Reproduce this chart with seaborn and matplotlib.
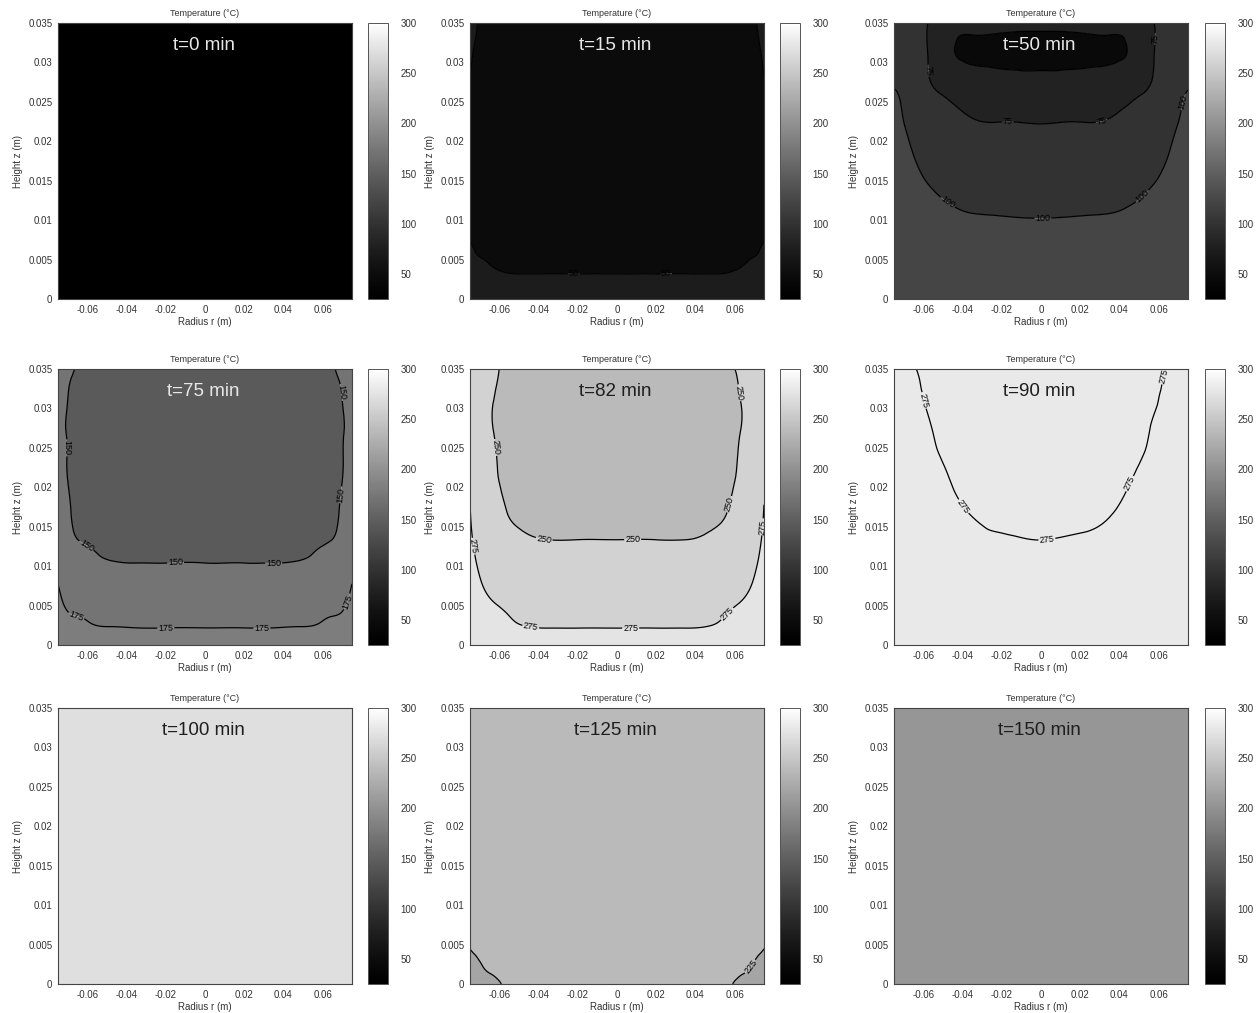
import numpy as np
import matplotlib
matplotlib.use("Agg")
import matplotlib.pyplot as plt
import matplotlib.tri as mtri
import seaborn as sns
from matplotlib.colors import LinearSegmentedColormap, Normalize
from matplotlib.cm import ScalarMappable
from matplotlib.ticker import FuncFormatter

# ------------------------------------------------------------------ data
TIMES_MIN = [0, 15, 50, 75, 82, 90, 100, 125, 150]

# half-section grid (axisymmetric, mirrored to negative radius)
R_HALF = [0.0, 0.02, 0.035, 0.05, 0.058, 0.064, 0.069, 0.072, 0.075]
Z_NODES = [0.0, 0.002, 0.004, 0.007, 0.010, 0.013, 0.017, 0.022, 0.027, 0.031, 0.035]

T_MIN, T_MAX = 25, 300
CBAR_TICKS = [50, 100, 150, 200, 250, 300]
X_TICKS = [-0.06, -0.04, -0.02, 0.0, 0.02, 0.04, 0.06]
Y_TICKS = [0.0, 0.005, 0.01, 0.015, 0.02, 0.025, 0.03, 0.035]

# temperatures (deg C): one list per radius node (R_HALF), values along Z_NODES
T_0_UNIFORM = 20
T_100_UNIFORM = 271
T_150_UNIFORM = 205

T_15 = [
    [62, 55, 47, 42, 40, 39, 38, 38, 38, 38, 39],
    [62, 55, 47, 42, 40, 39, 38, 38, 38, 38, 39],
    [62, 55, 47, 42, 40, 39, 38, 38, 38, 38, 39],
    [62, 55, 47, 42, 40, 39, 38, 38, 38, 38, 39],
    [63, 56, 48, 43, 41, 40, 39, 39, 39, 39, 40],
    [64, 58, 50.5, 45, 42, 41, 40, 40, 40, 41, 42],
    [66, 60, 53, 47, 44, 43, 42, 42, 43, 45, 47],
    [68, 62, 54, 48.5, 46, 45, 44, 44, 46, 48, 51],
    [70, 64, 58, 50.3, 48, 47, 46, 47, 49, 52, 55],
]
T_50 = [
    [118, 115, 111, 106, 100.5, 95, 88, 75.5, 59, 44, 56],
    [118.5, 115.5, 111.5, 106, 101, 95.5, 88.5, 76, 60, 45, 57],
    [119, 116, 112, 106.5, 101.5, 96.5, 89.5, 77, 62, 47, 58],
    [120, 117, 113, 108, 104, 99.5, 94, 85, 70, 58, 62],
    [121, 118, 114, 110, 106, 102, 97.5, 90, 79, 75.5, 75.5],
    [122, 119, 116, 112, 108, 104.5, 100.5, 95, 89, 86, 86],
    [122, 120, 118, 115, 112, 107.5, 104, 99.5, 95, 93, 93],
    [123, 121, 119, 117, 114, 110, 106.5, 102, 98, 96, 96],
    [123, 122, 120, 118, 116, 113, 109, 104, 99.5, 98, 98],
]
T_75 = [
    [182, 175.5, 170, 161, 151, 146, 143, 141, 140, 140, 141],
    [182, 175.5, 170, 161, 151, 146, 143, 141, 140, 140, 141],
    [182, 175.5, 170, 161, 151, 146, 143, 141, 140, 140, 141],
    [183, 176, 170.5, 162, 152, 147, 144, 142, 141, 141, 142],
    [184, 177, 172, 164, 155, 148.8, 145.5, 144, 143, 143, 144],
    [185, 179, 174, 167, 159, 150.3, 147.5, 147, 146, 146, 148],
    [186.5, 180.5, 175, 169, 163, 154, 150.5, 149, 148.5, 149, 152],
    [188, 182.5, 177, 172, 167, 159, 154, 151.5, 151, 152, 154],
    [190, 185, 180, 176, 171, 164, 159, 155, 154, 155, 157],
]
T_82 = [
    [285, 275.5, 270, 263, 256, 250.5, 246, 243, 241, 240, 240],
    [285, 275.5, 270, 263, 256, 250.5, 246, 243, 241, 240, 240],
    [285, 275.5, 270, 263, 256, 250.5, 246, 243, 241, 240, 240],
    [286, 277, 272, 265, 259, 253, 248, 246, 244, 243, 243],
    [287, 280, 276, 268, 262, 257, 251, 248.5, 248, 248, 249],
    [289, 283, 279, 272, 266.5, 261, 256, 252, 250.5, 250.5, 252],
    [291, 286, 282, 276.5, 271.5, 266.5, 262, 257, 255, 255, 256],
    [292, 288, 285, 280.5, 276, 272, 268, 263, 260, 259, 260],
    [294, 291, 288, 285, 281, 278, 275.5, 271, 267, 265, 266],
]
T_90 = [
    [284, 283, 282, 280, 278, 275.3, 272, 270, 269, 268, 268],
    [284, 283, 282, 280, 278.5, 276, 273, 271, 270, 269, 269],
    [284, 283, 282, 280.5, 279, 277, 274.5, 272, 271, 270, 270],
    [285, 284, 283, 282, 281, 280, 278, 275.5, 273, 272, 271],
    [286, 285, 284, 283, 282, 281, 280, 278, 276, 274.5, 273],
    [287, 286, 285, 284, 283, 282, 281, 280, 278, 276.5, 275.2],
    [288, 287, 286, 285, 284, 283, 282, 281, 280, 279, 278],
    [289, 288, 287, 286, 285, 284, 283, 282, 281, 280, 279],
    [290, 289, 288, 287, 286, 285, 284, 283, 282, 281, 280],
]
T_125 = [
    [235, 235, 235, 235, 235, 235, 235, 235, 235, 235, 235],
    [235, 235, 235, 235, 235, 235, 235, 235, 235, 235, 235],
    [235, 235, 235, 235, 235, 235, 235, 235, 235, 235, 235],
    [235, 235, 235, 235, 235, 235, 235, 235, 235, 235, 235],
    [226, 230, 233, 235, 235, 235, 235, 235, 235, 235, 235],
    [222, 227, 231, 234, 235, 235, 235, 235, 235, 235, 235],
    [219, 224, 228, 232, 235, 235, 235, 235, 235, 235, 235],
    [217, 221, 226, 231, 234, 235, 235, 235, 235, 235, 235],
    [215, 219, 224, 229, 233, 235, 235, 235, 235, 235, 235],
]

# isotherms drawn on each panel
LEVELS_0, LEVELS_15, LEVELS_50 = [], [50], [50, 75, 100]
LEVELS_75, LEVELS_82, LEVELS_90 = [150, 175], [250, 275], [275]
LEVELS_100, LEVELS_125, LEVELS_150 = [], [225], []

# shade (as temperature on the colour scale) of each region between isotherms
BANDS_0, BANDS_15, BANDS_50 = [20], [48, 72], [45, 80, 100, 122]
BANDS_75, BANDS_82, BANDS_90 = [145, 172, 180], [238, 260, 276], [280, 280]
BANDS_100, BANDS_125, BANDS_150 = [271], [219, 238], [205]

# where the inline isotherm labels sit
LABELS_15 = [(-0.022, 0.0033), (0.025, 0.0033)]
LABELS_50 = [(-0.056, 0.029), (-0.017, 0.0222), (0.031, 0.0225), (0.058, 0.033),
             (-0.047, 0.0125), (0.001, 0.0101), (0.050, 0.0135), (0.072, 0.025)]
LABELS_75 = [(-0.072, 0.025), (-0.062, 0.012), (-0.015, 0.0104), (0.035, 0.0104),
             (0.0705, 0.019), (0.069, 0.032),
             (-0.066, 0.0033), (-0.02, 0.002), (0.029, 0.002), (0.0725, 0.0055)]
LABELS_82 = [(-0.064, 0.025), (-0.037, 0.0137), (0.008, 0.0134), (0.055, 0.018), (0.063, 0.032),
             (-0.074, 0.0125), (-0.044, 0.0023), (0.007, 0.0021), (0.056, 0.0040), (0.0735, 0.015)]
LABELS_90 = [(-0.060, 0.031), (-0.040, 0.0175), (0.003, 0.0134), (0.045, 0.0205), (0.064, 0.034)]
LABELS_125 = [(0.068, 0.0022)]

# ------------------------------------------------------------------ style
sns.set_theme(style="white")
plt.rcParams["font.family"] = ["Liberation Sans", "DejaVu Sans"]

cmap = LinearSegmentedColormap.from_list("grey_t", ["black", "white"], N=256, gamma=1.25)
norm = Normalize(vmin=T_MIN, vmax=T_MAX)

r_half = np.array(R_HALF)
r_full = np.concatenate([-r_half[:0:-1], r_half])
z = np.array(Z_NODES)
RR, ZZ = np.meshgrid(r_full, z)
# triangulate in scaled coordinates so cells are not skinny
tri_base = mtri.Triangulation(RR.ravel() / 0.075, ZZ.ravel() / 0.035)
tri_plot = mtri.Triangulation(RR.ravel(), ZZ.ravel(), tri_base.triangles)
refiner = mtri.UniformTriRefiner(tri_plot)


def full_field(cols):
    arr = np.array(cols, dtype=float).T  # (nz, nr_half)
    return np.hstack([arr[:, :0:-1], arr])


def uniform_field(value):
    return np.full((len(z), len(r_full)), float(value))


PANELS = [
    (TIMES_MIN[0], uniform_field(T_0_UNIFORM), LEVELS_0, BANDS_0, []),
    (TIMES_MIN[1], full_field(T_15), LEVELS_15, BANDS_15, LABELS_15),
    (TIMES_MIN[2], full_field(T_50), LEVELS_50, BANDS_50, LABELS_50),
    (TIMES_MIN[3], full_field(T_75), LEVELS_75, BANDS_75, LABELS_75),
    (TIMES_MIN[4], full_field(T_82), LEVELS_82, BANDS_82, LABELS_82),
    (TIMES_MIN[5], full_field(T_90), LEVELS_90, BANDS_90, LABELS_90),
    (TIMES_MIN[6], uniform_field(T_100_UNIFORM), LEVELS_100, BANDS_100, []),
    (TIMES_MIN[7], full_field(T_125), LEVELS_125, BANDS_125, LABELS_125),
    (TIMES_MIN[8], uniform_field(T_150_UNIFORM), LEVELS_150, BANDS_150, []),
]

W, H = 1256, 1013
fig = plt.figure(figsize=(W / 100, H / 100), dpi=100)

col_left = [58, 470, 894]
cbar_left = [368, 780, 1205]
row_top = [23, 369, 708]
ax_w, ax_h, cb_w = 294, 276, 20

fmt = FuncFormatter(lambda v, p: "%g" % round(v, 4))

for i, (t, field, levels, bands, labpos) in enumerate(PANELS):
    row, col = divmod(i, 3)
    x0 = col_left[col] / W
    y0 = 1 - (row_top[row] + ax_h) / H
    ax = fig.add_axes([x0, y0, ax_w / W, ax_h / H])
    cax = fig.add_axes([cbar_left[col] / W, y0, cb_w / W, ax_h / H])

    tri_fine, field_fine = refiner.refine_field(field.ravel(), subdiv=3)
    fill_levels = [-1000.0] + list(levels) + [1000.0]
    band_colors = [cmap(norm(b)) for b in bands]
    ax.tricontourf(tri_fine, field_fine, levels=fill_levels, colors=band_colors, antialiased=True)
    if levels:
        cs = ax.tricontour(tri_fine, field_fine, levels=levels, colors="black", linewidths=0.9)
        ax.clabel(cs, fmt="%d", fontsize=6.5, inline=True, inline_spacing=1, manual=labpos)

    ax.set_xlim(-0.075, 0.075)
    ax.set_ylim(0, 0.035)
    ax.set_xticks(X_TICKS)
    ax.set_yticks(Y_TICKS)
    ax.xaxis.set_major_formatter(fmt)
    ax.yaxis.set_major_formatter(fmt)
    ax.tick_params(length=0, labelsize=7, colors="#333333", pad=4)
    for s in ax.spines.values():
        s.set_color("#444444")
        s.set_linewidth(0.8)
    ax.set_xlabel("Radius r (m)", fontsize=7, color="#333333", labelpad=2)
    ax.set_ylabel("Height z (m)", fontsize=7, color="#333333", labelpad=4)
    ax.set_title("Temperature (°C)", fontsize=6.5, color="#333333", pad=5)

    txt_color = "#e8e8e8" if t <= 75 else "#1e1e1e"
    ax.text(0.495, 0.92, f"t={t} min", transform=ax.transAxes, ha="center", va="center",
            fontsize=13.5, color=txt_color)

    sm = ScalarMappable(norm=norm, cmap=cmap)
    cb = fig.colorbar(sm, cax=cax, ticks=CBAR_TICKS)
    cb.outline.set_edgecolor("#555555")
    cb.outline.set_linewidth(0.7)
    cax.tick_params(length=0, labelsize=7, colors="#333333", pad=9)

fig.savefig("out.png", dpi=100)
